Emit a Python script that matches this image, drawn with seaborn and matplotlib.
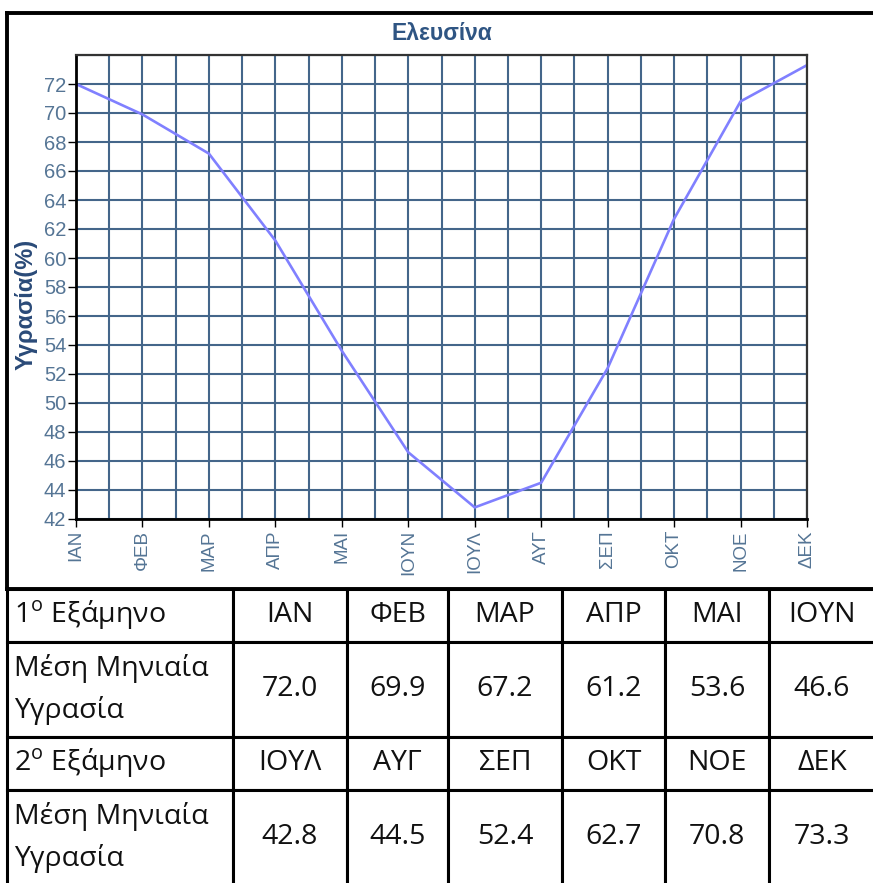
import numpy as np
import pandas as pd
import seaborn as sns
import matplotlib.pyplot as plt

months = ["ΙΑΝ", "ΦΕΒ", "ΜΑΡ", "ΑΠΡ", "ΜΑΙ", "ΙΟΥΝ",
          "ΙΟΥΛ", "ΑΥΓ", "ΣΕΠ", "ΟΚΤ", "ΝΟΕ", "ΔΕΚ"]
humidity = [72.0, 69.9, 67.2, 61.2, 53.6, 46.6,
            42.8, 44.5, 52.4, 62.7, 70.8, 73.3]
title = "Ελευσίνα"
ylabel = "Υγρασία(%)"
row_labels = ["1$^{\\mathrm{o}}$ Εξάμηνο", "Μέση Μηνιαία\nΥγρασία",
              "2$^{\\mathrm{o}}$ Εξάμηνο", "Μέση Μηνιαία\nΥγρασία"]

df = pd.DataFrame({"idx": range(len(months)), "month": months, "hum": humidity})

sns.set_style("white")
plt.rcParams["font.family"] = ["Liberation Sans", "DejaVu Sans"]
plt.rcParams["mathtext.fontset"] = "custom"
plt.rcParams["mathtext.rm"] = "Open Sans"

fig = plt.figure(figsize=(8.73, 8.83), dpi=100)

# outer frame around the chart
W, H = 873, 883
frame = fig.add_axes([7 / W, 1 - 589 / H, 880 / W, 576 / H], zorder=0)
frame.set_xticks([])
frame.set_yticks([])
for s in frame.spines.values():
    s.set_linewidth(2.8)
    s.set_color("black")

grid_c = "#44668a"
tick_c = "#557595"
ax = fig.add_axes([76 / W, 1 - 519 / H, 731 / W, 464 / H], zorder=2)
sns.lineplot(data=df, x="idx", y="hum", color="#8080ff", linewidth=1.9, ax=ax)
ax.set_xlim(0, 11)
ax.set_ylim(42, 74)
ax.set_yticks(np.arange(42, 73, 2))
ax.set_yticks([74], minor=True)
ax.set_xticks(range(12))
ax.set_xticks(np.arange(0.5, 11, 1), minor=True)
ax.set_xticklabels(months, rotation=90, fontsize=13.5, color=tick_c)
ax.tick_params(axis="y", labelsize=14.5, labelcolor=tick_c, length=6, width=1,
               color="black", pad=1, left=True)
ax.tick_params(axis="x", length=6, width=1, color="black", pad=2, bottom=True)
ax.tick_params(which="minor", length=0)
ax.grid(True, which="both", color=grid_c, linewidth=1.5)
ax.set_axisbelow(True)
for k in ["left", "bottom"]:
    ax.spines[k].set_linewidth(2)
    ax.spines[k].set_color("black")
for k in ["top", "right"]:
    ax.spines[k].set_linewidth(1.6)
    ax.spines[k].set_color("#333333")
ax.set_xlabel("")
ax.set_ylabel("")
fig.text(442 / W, 1 - 33 / H, title, ha="center", va="center", fontsize=16.5,
         fontweight="bold", color="#2f5583")
fig.text(26 / W, 1 - 304 / H, ylabel, ha="center", va="center", rotation=90,
         fontsize=17, fontweight="bold", color="#2a4a78")

# table under the chart
tab_ax = fig.add_axes([7 / W, 1 - 885 / H, 868 / W, 296 / H], zorder=1)
tab_ax.axis("off")
cells = [
    [row_labels[0]] + months[:6],
    [row_labels[1]] + [f"{v:.1f}" for v in humidity[:6]],
    [row_labels[2]] + months[6:],
    [row_labels[3]] + [f"{v:.1f}" for v in humidity[6:]],
]
col_w = [226, 114, 101, 114, 103, 104, 106]
col_w = [c / sum(col_w) for c in col_w]
row_h = [53, 95, 53, 95]
tbl = tab_ax.table(cellText=cells, colWidths=col_w, cellLoc="center",
                   bbox=[0, 0, 1, 1])
tbl.auto_set_font_size(False)
for (r, c), cell in tbl.get_celld().items():
    cell.set_height(row_h[r] / sum(row_h))
    cell.set_linewidth(2.2)
    cell.set_edgecolor("black")
    txt = cell.get_text()
    txt.set_fontsize(20.5)
    txt.set_fontfamily(["Open Sans", "DejaVu Sans"])
    txt.set_linespacing(1.55)
    txt.set_color("#111111")
    if c == 0:
        cell.PAD = 0.03
        txt.set_horizontalalignment("left")
        txt.set_multialignment("left")

fig.savefig("out.png", dpi=100)
